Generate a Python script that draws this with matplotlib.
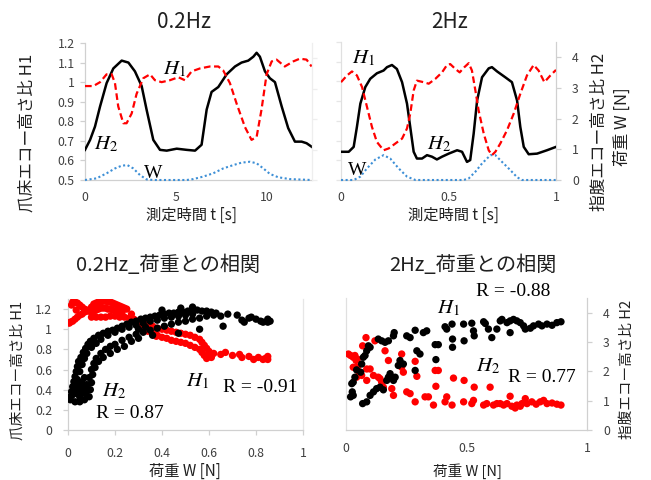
import matplotlib
matplotlib.use("Agg")
import matplotlib.pyplot as plt

plt.rcParams['font.family'] = ['Noto Sans CJK JP', 'DejaVu Sans']
plt.rcParams['mathtext.fontset'] = 'stix'

# ---------------- data: 0.2Hz time series ----------------
t02_h1 = [0, 0.46, 0.83, 1.19, 1.47, 1.65, 1.83, 2.11, 2.29, 2.57, 2.84, 3.21, 3.58, 3.85, 4.22, 4.68,
          5.14, 5.5, 5.87, 6.33, 6.88, 7.34, 7.61, 7.98, 8.35, 8.81, 9.17, 9.45, 9.72, 10.0, 10.28,
          10.55, 11.0, 11.47, 11.83, 12.2, 12.48]
h1_02 = [0.98, 0.98, 1.0, 1.04, 1.04, 0.995, 0.876, 0.79, 0.79, 0.84, 0.94, 1.02, 1.04, 1.01, 1.0, 1.01,
         1.025, 1.01, 1.055, 1.07, 1.08, 1.08, 1.06, 0.995, 0.89, 0.77, 0.705, 0.72, 0.86, 1.04, 1.106,
         1.115, 1.08, 1.106, 1.12, 1.115, 1.08]
t02_h2 = [0, 0.28, 0.55, 0.83, 1.19, 1.56, 2.02, 2.39, 2.75, 3.12, 3.39, 3.76, 4.13, 4.5, 5.05, 5.6,
          6.06, 6.42, 6.7, 6.97, 7.34, 7.8, 8.26, 8.62, 8.99, 9.27, 9.45, 9.63, 9.91, 10.18, 10.46,
          10.83, 11.19, 11.56, 11.93, 12.2, 12.48]
h2_02 = [0.654, 0.705, 0.773, 0.876, 0.995, 1.07, 1.11, 1.10, 1.055, 0.98, 0.86, 0.705, 0.654, 0.65,
         0.66, 0.654, 0.65, 0.68, 0.86, 0.95, 0.975, 1.04, 1.08, 1.10, 1.11, 1.13, 1.15, 1.13, 1.055,
         1.02, 1.0, 0.876, 0.765, 0.696, 0.696, 0.688, 0.67]
t02_w = [0, 0.64, 1.19, 1.65, 2.02, 2.33, 2.66, 3.03, 3.39, 3.76, 4.5, 5.0, 5.6, 5.96, 6.5, 7.06, 7.61,
         8.17, 8.62, 9.08, 9.45, 9.82, 10.18, 10.64, 11.28, 12.48]
w_02 = [0, 0.055, 0.22, 0.38, 0.47, 0.49, 0.38, 0.16, 0.02, 0, 0, 0, 0, 0.03, 0.11, 0.22, 0.38,
        0.49, 0.57, 0.60, 0.55, 0.38, 0.2, 0.09, 0.03, 0]

# ---------------- data: 2Hz time series ----------------
t2_red = [0, 0.028, 0.051, 0.074, 0.098, 0.121, 0.144, 0.167, 0.198, 0.222, 0.253, 0.284, 0.307, 0.322,
          0.338, 0.353, 0.384, 0.408, 0.439, 0.47, 0.493, 0.508, 0.532, 0.552, 0.574, 0.594, 0.609,
          0.625, 0.64, 0.664, 0.687, 0.702, 0.718, 0.741, 0.772, 0.803, 0.834, 0.865, 0.896, 0.919,
          0.946, 0.974, 1.0]
red_2 = [3.19, 3.41, 3.54, 3.41, 3.03, 2.38, 1.73, 1.24, 0.97, 1.03, 1.19, 1.35, 1.68, 2.16, 2.92, 3.24,
         3.19, 3.14, 3.30, 3.51, 3.75, 3.78, 3.62, 3.51, 3.68, 3.81, 3.57, 2.92, 2.27, 1.51, 0.97, 0.81,
         0.92, 1.19, 1.62, 2.16, 2.81, 3.41, 3.75, 3.57, 3.19, 3.41, 3.59]
t2_blk = [0, 0.036, 0.059, 0.074, 0.09, 0.113, 0.136, 0.167, 0.198, 0.214, 0.237, 0.26, 0.284, 0.307,
          0.322, 0.338, 0.353, 0.377, 0.4, 0.423, 0.446, 0.47, 0.501, 0.54, 0.563, 0.586, 0.601, 0.617,
          0.633, 0.656, 0.687, 0.702, 0.726, 0.764, 0.795, 0.819, 0.834, 0.85, 0.873, 0.912, 0.958, 1.0]
blk_2 = [0.92, 0.92, 1.08, 1.73, 2.49, 3.03, 3.30, 3.48, 3.57, 3.68, 3.75, 3.62, 3.19, 2.49, 1.73, 0.92,
         0.70, 0.70, 0.81, 0.76, 0.67, 0.76, 0.86, 0.97, 0.92, 0.59, 0.65, 1.51, 2.59, 3.35, 3.64, 3.68,
         3.54, 3.35, 3.19, 2.59, 1.73, 1.08, 0.84, 0.86, 0.97, 1.08]
t2_w = [0, 0.059, 0.09, 0.121, 0.16, 0.198, 0.229, 0.268, 0.307, 0.346, 0.45, 0.57, 0.594, 0.625, 0.656,
        0.695, 0.718, 0.749, 0.788, 0.819, 0.842, 1.0]
w_2 = [0, 0, 0.11, 0.38, 0.67, 0.81, 0.70, 0.38, 0.11, 0, 0, 0, 0.05, 0.27, 0.54, 0.81, 0.81, 0.59,
       0.32, 0.09, 0, 0]

# ---------------- data: 0.2Hz correlation scatter (black = H2, red = H1) ----------------
blk02_w = [
    # outer upper row
    0.01, 0.015, 0.02, 0.025, 0.03, 0.035, 0.04, 0.045, 0.055, 0.065, 0.075, 0.085, 0.095, 0.11, 0.13,
    0.15, 0.17, 0.19, 0.21, 0.23, 0.25, 0.27, 0.29, 0.31, 0.33, 0.35, 0.37, 0.39, 0.41, 0.43, 0.45,
    0.47, 0.49, 0.51, 0.53, 0.55, 0.57, 0.59, 0.61, 0.63,
    # inner upper row
    0.03, 0.035, 0.04, 0.05, 0.06, 0.07, 0.08, 0.10, 0.12, 0.14, 0.17, 0.20, 0.23, 0.26, 0.29, 0.32,
    0.35, 0.38, 0.41, 0.44, 0.47, 0.50, 0.53,
    # lower row
    0.05, 0.06, 0.07, 0.08, 0.09, 0.10, 0.11, 0.12, 0.14, 0.16, 0.18, 0.20, 0.23, 0.26, 0.29, 0.32,
    0.35, 0.38, 0.41, 0.44, 0.47, 0.50, 0.53, 0.56, 0.59, 0.62,
    # lowest row
    0.03, 0.05, 0.07, 0.09, 0.095, 0.10, 0.105, 0.115, 0.13, 0.15, 0.18, 0.21, 0.24, 0.27, 0.30,
    # bottom-left fill
    0.01, 0.02, 0.04, 0.05, 0.06, 0.07, 0.075, 0.085,
    # scattered
    0.30, 0.33, 0.36, 0.47, 0.56, 0.53, 0.65, 0.66, 0.68, 0.72, 0.74, 0.75, 0.77, 0.78, 0.80, 0.82,
    0.83, 0.85, 0.85, 0.86, 0.40, 0.48]
blk02_h = [
    0.33, 0.38, 0.43, 0.48, 0.53, 0.58, 0.63, 0.68, 0.72, 0.77, 0.81, 0.85, 0.88, 0.91, 0.94,
    0.96, 0.98, 0.99, 1.01, 1.03, 1.05, 1.07, 1.08, 1.10, 1.11, 1.12, 1.13, 1.14, 1.15, 1.16, 1.16,
    1.17, 1.17, 1.18, 1.19, 1.19, 1.18, 1.18, 1.17, 1.16,
    0.40, 0.45, 0.50, 0.58, 0.65, 0.71, 0.76, 0.82, 0.86, 0.90, 0.94, 0.97, 1.00, 1.02, 1.04, 1.06,
    1.08, 1.09, 1.11, 1.12, 1.13, 1.14, 1.15,
    0.33, 0.38, 0.42, 0.45, 0.52, 0.60, 0.66, 0.71, 0.76, 0.80, 0.83, 0.85, 0.89, 0.92, 0.95, 0.97,
    0.99, 1.01, 1.03, 1.05, 1.07, 1.08, 1.10, 1.11, 1.13, 1.14,
    0.28, 0.28, 0.30, 0.33, 0.40, 0.47, 0.55, 0.62, 0.68, 0.72, 0.76, 0.80, 0.83, 0.88, 0.91,
    0.30, 0.35, 0.36, 0.42, 0.47, 0.52, 0.36, 0.40,
    1.00, 1.02, 0.94, 0.96, 1.00, 1.22, 1.13, 1.03, 1.15, 1.14, 1.09, 1.07, 1.11, 1.12, 1.10, 1.08,
    1.07, 1.10, 1.07, 1.08, 1.19, 1.21]
red02_w = [
    # top-left crossing bands
    0.02, 0.03, 0.04, 0.05, 0.06, 0.07, 0.08, 0.09,
    0.005, 0.01, 0.02, 0.03, 0.04, 0.05, 0.06, 0.07, 0.08,
    0.10, 0.11, 0.12, 0.13, 0.14, 0.15, 0.16, 0.17, 0.18, 0.19, 0.20, 0.21, 0.22, 0.23, 0.24, 0.25,
    0.10, 0.11, 0.12, 0.13, 0.14, 0.15, 0.16, 0.17, 0.18, 0.19, 0.21, 0.23,
    0.10, 0.12, 0.14, 0.16, 0.18, 0.20, 0.22, 0.24, 0.26, 0.28, 0.27, 0.015, 0.035,
    # upper descending arc
    0.30, 0.32, 0.34, 0.36, 0.38, 0.40, 0.42, 0.44, 0.46, 0.48, 0.50, 0.52, 0.54, 0.56, 0.57,
    0.58, 0.59, 0.60, 0.60, 0.61,
    # lower descending arc
    0.30, 0.32, 0.34, 0.36, 0.38, 0.40, 0.42, 0.44, 0.46, 0.48, 0.50, 0.52, 0.54, 0.56, 0.57,
    0.58, 0.59,
    # scattered tail
    0.376, 0.62, 0.65, 0.67, 0.70, 0.73, 0.74, 0.77, 0.79, 0.81, 0.83, 0.84, 0.85, 0.85]
red02_h = [
    1.27, 1.27, 1.26, 1.24, 1.22, 1.20, 1.19, 1.18,
    1.06, 1.07, 1.08, 1.10, 1.12, 1.14, 1.15, 1.17, 1.18,
    1.22, 1.25, 1.26, 1.27, 1.27, 1.28, 1.28, 1.27, 1.27, 1.26, 1.25, 1.24, 1.23, 1.22, 1.21, 1.20,
    1.17, 1.18, 1.19, 1.20, 1.21, 1.21, 1.21, 1.20, 1.20, 1.19, 1.18, 1.17,
    1.12, 1.12, 1.12, 1.12, 1.13, 1.13, 1.12, 1.12, 1.11, 1.10, 1.15, 1.24, 1.19,
    1.08, 1.06, 1.05, 1.03, 1.01, 1.00, 0.99, 0.98, 0.97, 0.96, 0.95, 0.94, 0.92, 0.90, 0.87,
    0.84, 0.81, 0.78, 0.75, 0.72,
    1.03, 1.00, 0.98, 0.96, 0.94, 0.92, 0.91, 0.89, 0.88, 0.87, 0.86, 0.84, 0.82, 0.80, 0.77,
    0.74, 0.71,
    0.93, 0.76, 0.75, 0.77, 0.74, 0.75, 0.72, 0.73, 0.70, 0.72, 0.70, 0.71, 0.73, 0.70]

# ---------------- data: 2Hz correlation scatter ----------------
blk2_w = [0.019, 0.03, 0.026, 0.024, 0.03, 0.037, 0.044, 0.061, 0.065, 0.072, 0.079, 0.086, 0.093, 0.1,
          0.069, 0.086, 0.1, 0.114, 0.127, 0.141, 0.155, 0.169, 0.176, 0.183, 0.197, 0.204, 0.134, 0.148,
          0.162, 0.176, 0.197, 0.2, 0.217, 0.224, 0.238, 0.252, 0.266, 0.287, 0.294, 0.287, 0.307, 0.321,
          0.335, 0.37, 0.383, 0.373, 0.411, 0.418, 0.44, 0.442, 0.442, 0.49, 0.488, 0.522, 0.529, 0.532,
          0.571, 0.578, 0.591, 0.605, 0.626, 0.64, 0.647, 0.668, 0.681, 0.681, 0.695, 0.709, 0.723,
          0.737, 0.744, 0.765, 0.778, 0.799, 0.813, 0.834, 0.855, 0.875, 0.892]
blk2_h = [1.13, 1.18, 1.30, 1.58, 1.63, 1.80, 2.05, 1.97, 2.25, 2.48, 2.54, 2.70, 2.87, 2.82,
          0.90, 0.96, 1.18, 1.30, 1.41, 1.46, 1.37, 1.69, 1.80, 1.92, 1.69, 1.80, 3.10, 3.04,
          2.99, 3.04, 3.21, 3.32, 2.20, 2.37, 2.25, 3.21, 3.15, 3.40, 2.70, 2.03, 2.59, 3.32,
          3.38, 2.91, 2.91, 2.40, 3.52, 3.44, 3.61, 3.10, 2.82, 3.04, 3.61, 3.64, 3.38, 3.21,
          3.69, 3.63, 3.44, 3.15, 3.44, 3.72, 3.77, 3.66, 3.72, 3.32, 3.77, 3.72, 3.66,
          3.55, 3.44, 3.47, 3.55, 3.61, 3.55, 3.61, 3.57, 3.66, 3.69]
red2_w = [0.01, 0.019, 0.03, 0.037, 0.042, 0.047, 0.03, 0.047, 0.055, 0.065, 0.044, 0.069, 0.083, 0.086,
          0.1, 0.086, 0.114, 0.12, 0.134, 0.141, 0.148, 0.155, 0.162, 0.176, 0.19, 0.197, 0.231, 0.231,
          0.238, 0.252, 0.266, 0.287, 0.287, 0.294, 0.328, 0.342, 0.363, 0.37, 0.383, 0.373, 0.411,
          0.418, 0.44, 0.446, 0.49, 0.488, 0.522, 0.529, 0.532, 0.571, 0.584, 0.598, 0.612, 0.626,
          0.64, 0.654, 0.668, 0.681, 0.688, 0.702, 0.709, 0.723, 0.73, 0.744, 0.751, 0.771, 0.789,
          0.806, 0.82, 0.834, 0.855, 0.875, 0.892]
red2_h = [2.59, 2.54, 2.48, 2.54, 2.37, 2.42, 2.14, 2.14, 1.97, 1.86, 1.80, 2.87, 3.15, 2.08,
          2.08, 1.69, 1.86, 3.04, 1.80, 1.75, 1.63, 1.46, 2.70, 2.37, 1.41, 1.18, 2.59, 2.14,
          1.97, 1.30, 1.24, 0.96, 2.34, 1.83, 1.13, 1.13, 0.85, 2.03, 2.03, 1.49, 0.96,
          1.13, 0.85, 1.77, 1.69, 0.96, 0.90, 1.01, 1.46, 0.85, 0.90, 1.46, 0.85, 0.90,
          0.90, 0.85, 0.90, 1.15, 0.81, 0.75, 0.85, 0.81, 0.90, 1.07, 0.90, 0.96, 0.88,
          0.96, 1.01, 0.90, 0.92, 0.88, 0.85]

# ---------------- tick definitions ----------------
h1_ticks = [0.5, 0.6, 0.7, 0.8, 0.9, 1.0, 1.1, 1.2]
h1_labels = ['0.5', '0.6', '0.7', '0.8', '0.9', '1', '1.1', '1.2']
h2_ticks = [0, 1, 2, 3, 4]
t02_ticks = [0, 5, 10]
t2_ticks = [0, 0.5, 1]
t2_labels = ['0', '0.5', '1']
corr_yticks = [0, 0.2, 0.4, 0.6, 0.8, 1.0, 1.2]
corr_ylabels = ['0', '0.2', '0.4', '0.6', '0.8', '1', '1.2']
corr_xticks = [0, 0.2, 0.4, 0.6, 0.8, 1.0]
corr_xlabels = ['0', '0.2', '0.4', '0.6', '0.8', '1']
corr2_xticks = [0, 0.5, 1]

# ---------------- styling ----------------
W, H = 651, 480
fig = plt.figure(figsize=(6.51, 4.80), dpi=100)
SPINE = '#d0d0d0'
TICKC = '#404040'
RED = '#ff0000'
BLUE = '#3d8fd6'
SERIF = ['Liberation Serif', 'DejaVu Serif']


def pax(l, r, t, b):
    return fig.add_axes([l / W, 1 - b / H, (r - l) / W, (b - t) / H])


def style(ax, left=True, right=False, bottom=True):
    ax.spines['top'].set_visible(False)
    ax.spines['left'].set_visible(left)
    ax.spines['right'].set_visible(right)
    ax.spines['bottom'].set_visible(bottom)
    for s in ['left', 'right', 'bottom']:
        ax.spines[s].set_color(SPINE)
        ax.spines[s].set_linewidth(0.9)
    ax.tick_params(colors=SPINE, labelcolor=TICKC, labelsize=8.8, length=3.5, width=0.9)
    ax.set_facecolor('none')


def fx(p):
    return p / W


def fy(p):
    return 1 - p / H


# ---- top-left: 0.2Hz ----
ax1 = pax(85, 312, 43, 180)
style(ax1, left=True, right=False, bottom=True)
ax1.set_xlim(0, 12.5)
ax1.set_ylim(0.5, 1.2)
ax1.set_yticks(h1_ticks, h1_labels)
ax1.set_xticks(t02_ticks)
ax1.tick_params(axis='x', length=0, pad=8)
ax1.tick_params(axis='y', pad=4)
ax1r = ax1.twinx()
style(ax1r, left=False, right=True, bottom=False)
ax1r.set_ylim(0, 4.5)
ax1r.set_yticks(h2_ticks)
ax1r.tick_params(axis='y', labelright=False, colors='#eeeeee')
ax1r.spines['right'].set_color('#eeeeee')
ax1.plot(t02_h2, h2_02, color='black', lw=1.8, zorder=3)
ax1.plot(t02_h1, h1_02, color=RED, lw=1.6, ls=(0, (3, 1.6)), zorder=3)
ax1r.plot(t02_w, w_02, color=BLUE, lw=1.5, ls=(0, (1, 1.2)), clip_on=False)

# ---- top-right: 2Hz ----
ax2 = pax(341, 556, 42, 180)
style(ax2, left=True, right=False, bottom=True)
ax2.set_xlim(0, 1)
ax2.set_ylim(0.5, 1.2)
ax2.set_yticks(h1_ticks)
ax2.tick_params(axis='y', labelleft=False, colors='#e6e6e6')
ax2.spines['left'].set_color('#e0e0e0')
ax2.set_xticks(t2_ticks, t2_labels)
ax2.tick_params(axis='x', length=0, pad=8)
ax2r = ax2.twinx()
style(ax2r, left=False, right=True, bottom=False)
ax2r.set_ylim(0, 4.5)
ax2r.set_yticks(h2_ticks)
ax2r.tick_params(axis='y', pad=8, length=3.5)
ax2r.plot(t2_blk, blk_2, color='black', lw=1.8, zorder=3)
ax2r.plot(t2_red, red_2, color=RED, lw=1.6, ls=(0, (3, 1.6)), zorder=3)
ax2r.plot(t2_w, w_2, color=BLUE, lw=1.5, ls=(0, (1, 1.2)), clip_on=False)

# ---- bottom-left: 0.2Hz correlation ----
ax3 = pax(68, 303, 299, 430)
style(ax3, left=True, right=True, bottom=True)
ax3.spines['right'].set_color('#e6e6e6')
ax3.set_xlim(0, 1)
ax3.set_ylim(0, 1.3)
ax3.set_yticks(corr_yticks, corr_ylabels)
ax3.set_xticks(corr_xticks, corr_xlabels)
ax3.tick_params(axis='x', pad=9)
ax3.tick_params(axis='y', pad=8)
ax3.scatter(red02_w, red02_h, s=28, color=RED, edgecolors='none', zorder=3)
ax3.scatter(blk02_w, blk02_h, s=28, color='black', edgecolors='none', zorder=4)

# ---- bottom-right: 2Hz correlation ----
ax4 = pax(346, 587, 298, 430)
style(ax4, left=True, right=True, bottom=True)
ax4.spines['left'].set_color('#e0e0e0')
ax4.set_xlim(0, 1)
ax4.set_ylim(0, 4.5)
ax4.set_xticks(corr2_xticks, t2_labels)
ax4.tick_params(axis='x', pad=9, length=0)
ax4.yaxis.tick_right()
ax4.set_yticks(h2_ticks)
ax4.tick_params(axis='y', pad=8)
ax4.scatter(red2_w, red2_h, s=28, color=RED, edgecolors='none', zorder=3)
ax4.scatter(blk2_w, blk2_h, s=28, color='black', edgecolors='none', zorder=4)

# ---------------- titles and axis labels ----------------
TC = '#202020'
fig.text(fx(184), fy(22), '0.2Hz', ha='center', va='center', fontsize=15, color=TC)
fig.text(fx(450), fy(22), '2Hz', ha='center', va='center', fontsize=15, color=TC)
fig.text(fx(168), fy(265), '0.2Hz_荷重との相関', ha='center', va='center', fontsize=14.5, color=TC)
fig.text(fx(473), fy(265), '2Hz_荷重との相関', ha='center', va='center', fontsize=14.5, color=TC)

fig.text(fx(191), fy(215), '測定時間 t [s]', ha='center', va='center', fontsize=11, color=TC)
fig.text(fx(453), fy(215), '測定時間 t [s]', ha='center', va='center', fontsize=11, color=TC)
fig.text(fx(185), fy(471), '荷重 W [N]', ha='center', va='center', fontsize=11, color=TC)
fig.text(fx(467), fy(471), '荷重 W [N]', ha='center', va='center', fontsize=10.5, color=TC)

fig.text(fx(27), fy(133), '爪床エコー高さ比 H1', ha='center', va='center', rotation=90, fontsize=12, color=TC)
fig.text(fx(18), fy(370), '爪床エコー高さ比 H1', ha='center', va='center', rotation=90, fontsize=10.5, color=TC)
fig.text(fx(599), fy(132), '指腹エコー高さ比 H2', ha='center', va='center', rotation=90, fontsize=12, color=TC)
fig.text(fx(622), fy(127), '荷重 W [N]', ha='center', va='center', rotation=90, fontsize=12, color=TC)
fig.text(fx(627), fy(369), '指腹エコー高さ比 H2', ha='center', va='center', rotation=90, fontsize=10.5, color=TC)


# ---------------- annotations ----------------
def ann(x, y, s, size=14, family=None):
    kw = dict(ha='center', va='center', fontsize=size, color='black')
    if family:
        kw['family'] = family
    fig.text(fx(x), fy(y), s, **kw)


ann(175, 68, '$H_1$', 15)
ann(106, 143, '$H_2$', 15)
ann(153, 173, 'W', 14, SERIF)
ann(364, 57, '$H_1$', 15)
ann(439, 143, '$H_2$', 15)
ann(357, 170, 'W', 14, SERIF)
ann(114, 390, '$H_2$', 15)
ann(130, 413, 'R = 0.87', 14, SERIF)
ann(198, 380, '$H_1$', 15)
ann(260, 388, 'R = -0.91', 14, SERIF)
ann(513, 292, 'R = -0.88', 14, SERIF)
ann(449, 307, '$H_1$', 15)
ann(488, 365, '$H_2$', 15)
ann(542, 378, 'R = 0.77', 14, SERIF)

fig.savefig('out.png', dpi=100)
